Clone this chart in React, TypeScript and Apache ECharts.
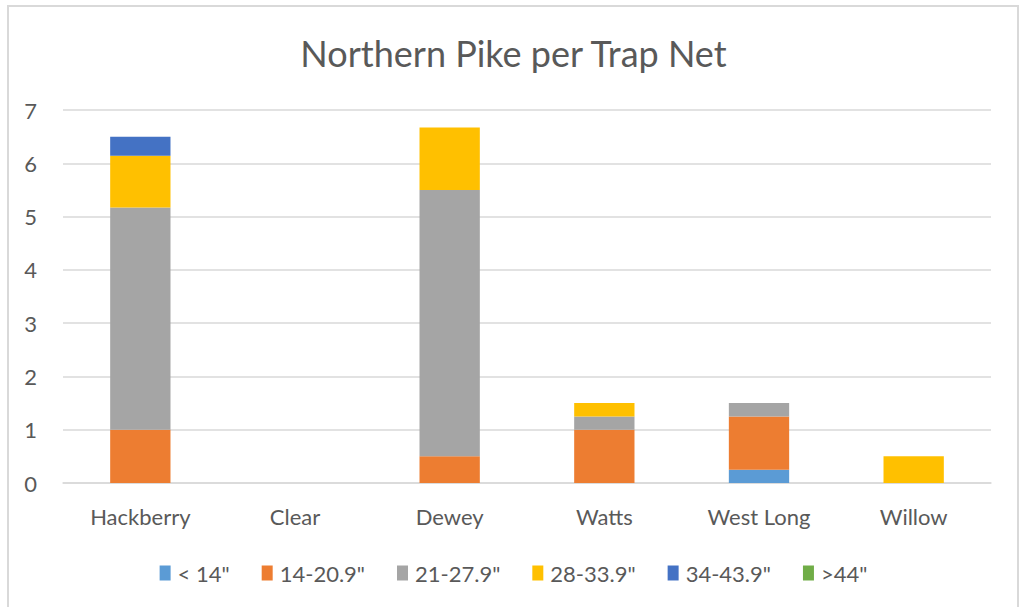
import React, { useEffect, useRef } from "react";
import * as echarts from "echarts";

const categories = ["Hackberry", "Clear", "Dewey", "Watts", "West Long", "Willow"];
const seriesNames = ['< 14"', '14-20.9"', '21-27.9"', '28-33.9"', '34-43.9"', '>44"'];
const under14 = [0, 0, 0, 0, 0.25, 0];
const s14to21 = [1, 0, 0.5, 1, 1, 0];
const s21to28 = [4.17, 0, 5, 0.25, 0.25, 0];
const s28to34 = [0.97, 0, 1.17, 0.25, 0, 0.5];
const s34to44 = [0.36, 0, 0, 0, 0, 0];
const over44 = [0, 0, 0, 0, 0, 0];
const colors = ["#5B9BD5", "#ED7D31", "#A5A5A5", "#FFC000", "#4472C4", "#70AD47"];
const yTicks = { min: 0, max: 7, interval: 1 };

export default function App() {
  const ref = useRef<HTMLDivElement>(null);
  useEffect(() => {
    const chart = echarts.init(ref.current!, null, { renderer: "svg" });
    const data = [under14, s14to21, s21to28, s28to34, s34to44, over44];
    const font = "Lato, 'Noto Sans', sans-serif";
    chart.setOption({
      animation: false,
      backgroundColor: "#ffffff",
      title: {
        text: "Northern Pike per Trap Net",
        left: "center",
        top: 30,
        textStyle: { color: "#595959", fontSize: 36, fontWeight: "normal", fontFamily: font },
      },
      graphic: [
        {
          type: "rect",
          shape: { x: 8, y: 6, width: 1010, height: 610 },
          style: { fill: "none", stroke: "#d9d9d9", lineWidth: 2 },
          silent: true,
        },
      ],
      legend: {
        bottom: 18,
        left: "center",
        itemWidth: 11,
        itemHeight: 15,
        itemGap: 32,
        icon: "rect",
        textStyle: { color: "#595959", fontSize: 22, fontFamily: font, padding: [0, 0, 0, 2] },
        data: seriesNames,
      },
      grid: { left: 63, right: 36, top: 110, bottom: 124, containLabel: false },
      xAxis: {
        type: "category",
        data: categories,
        axisTick: { show: false },
        axisLine: { lineStyle: { color: "#d9d9d9", width: 1.5 } },
        axisLabel: { color: "#595959", fontSize: 22, fontFamily: font, margin: 22 },
      },
      yAxis: {
        type: "value",
        min: yTicks.min,
        max: yTicks.max,
        interval: yTicks.interval,
        axisLine: { show: false },
        axisTick: { show: false },
        splitLine: { lineStyle: { color: "#d9d9d9", width: 1.5 } },
        axisLabel: { color: "#595959", fontSize: 22, fontFamily: font, margin: 26 },
      },
      series: seriesNames.map((name, i) => ({
        name,
        type: "bar",
        stack: "total",
        data: data[i],
        barWidth: "39%",
        itemStyle: { color: colors[i] },
      })),
    });
    return () => chart.dispose();
  }, []);
  return (
    <div
      ref={ref}
      style={{ position: "fixed", left: 0, top: 0, width: 1027, height: 607 }}
    />
  );
}
